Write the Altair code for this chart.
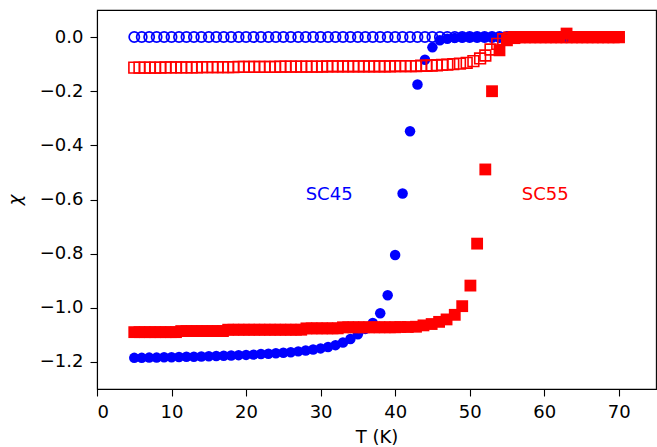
import altair as alt
import pandas as pd

# SC45 (blue): field-cooled (open circles) and zero-field-cooled (filled circles)
t_sc45 = [5, 6, 7, 8, 9, 10, 11, 12, 13, 14, 15, 16, 17, 18, 19, 20, 21, 22, 23, 24,
          25, 26, 27, 28, 29, 30, 31, 32, 33, 34, 35, 36, 37, 38, 39, 40, 41, 42, 43, 44,
          45, 46, 47, 48, 49, 50, 51, 52, 53, 54, 55, 56, 57, 58, 59, 60, 61, 62, 63, 64,
          65, 66, 67, 68, 69, 70]
chi_sc45_fc = [0.0, 0.0, 0.0, 0.0, 0.0, 0.0, 0.0, 0.0, 0.0, 0.0, 0.0, 0.0, 0.0, 0.0, 0.0, 0.0,
               0.0, 0.0, 0.0, 0.0, 0.0, 0.0, 0.0, 0.0, 0.0, 0.0, 0.0, 0.0, 0.0, 0.0, 0.0, 0.0,
               0.0, 0.0, 0.0, 0.0, 0.0, 0.0, 0.0, 0.0, 0.0, 0.0, 0.0, 0.0, 0.0, 0.0, 0.0, 0.0,
               0.0, 0.0, 0.0, 0.0, 0.0, 0.0, 0.0, 0.0, 0.0, 0.0, 0.0, 0.0, 0.0, 0.0, 0.0, 0.0,
               0.0, 0.0]
chi_sc45_zfc = [-1.185, -1.185, -1.184, -1.184, -1.183, -1.183, -1.182, -1.181, -1.181, -1.180,
                -1.179, -1.178, -1.177, -1.176, -1.175, -1.174, -1.173, -1.171, -1.170, -1.168,
                -1.166, -1.164, -1.161, -1.158, -1.154, -1.150, -1.145, -1.138, -1.128, -1.115,
                -1.098, -1.078, -1.056, -1.020, -0.954, -0.805, -0.578, -0.348, -0.175, -0.084,
                -0.038, -0.012, -0.006, -0.003, -0.001, 0.0, 0.0, 0.0, 0.0, 0.0,
                0.0, 0.0, 0.0, 0.0, 0.0, 0.0, 0.0, 0.0, 0.0, 0.0,
                0.0, 0.0, 0.0, 0.0, 0.0, 0.0]

# SC55 (red): field-cooled (open squares)
t_sc55_fc = [5.0, 5.7, 6.4, 7.1, 7.8, 8.5, 9.2, 9.9, 10.6, 11.3, 12.0, 12.7, 13.4, 14.1, 14.8,
             15.5, 16.2, 16.9, 17.6, 18.3, 19.0, 19.7, 20.4, 21.1, 21.8, 22.5, 23.2, 23.9, 24.6,
             25.3, 26.0, 26.7, 27.4, 28.1, 28.8, 29.5, 30.2, 30.9, 31.6, 32.3, 33.0, 33.7, 34.4,
             35.1, 35.8, 36.5, 37.2, 37.9, 38.6, 39.3, 40.0, 40.7, 41.4, 42.1, 42.8, 43.5, 44.2,
             44.9, 45.6, 46.3, 47.0, 47.8, 48.7, 49.6, 50.5, 51.4, 52.1, 52.8, 53.7, 54.5, 55.3,
             56.0, 56.7, 57.4, 58.1, 58.8, 59.5, 60.2, 60.9, 61.6, 62.3, 63.0, 63.7, 64.4, 65.1,
             65.8, 66.5, 67.2, 67.9, 68.6, 69.3, 70.0]
chi_sc55_fc = [-0.113, -0.113, -0.113, -0.113, -0.113, -0.113, -0.112, -0.112, -0.112, -0.112,
               -0.112, -0.112, -0.112, -0.111, -0.111, -0.111, -0.111, -0.111, -0.111, -0.111,
               -0.110, -0.110, -0.110, -0.110, -0.110, -0.110, -0.110, -0.110, -0.109, -0.109,
               -0.109, -0.109, -0.109, -0.109, -0.109, -0.109, -0.109, -0.108, -0.108, -0.108,
               -0.108, -0.108, -0.108, -0.108, -0.108, -0.108, -0.108, -0.108, -0.108, -0.108,
               -0.107, -0.107, -0.107, -0.107, -0.107, -0.106, -0.106, -0.105, -0.104, -0.103,
               -0.102, -0.100, -0.098, -0.095, -0.089, -0.079, -0.068, -0.046, -0.025, -0.008,
               -0.002, 0.0, 0.0, 0.0, 0.0, 0.0, 0.0, 0.0, 0.0, 0.0, 0.0, 0.0, 0.0, 0.0, 0.0,
               0.0, 0.0, 0.0, 0.0, 0.0, 0.0, 0.0]

# SC55 (red): zero-field-cooled (filled squares)
t_sc55_zfc = [5.0, 5.7, 6.4, 7.1, 7.8, 8.5, 9.2, 9.9, 10.6, 11.3, 12.0, 12.7, 13.4, 14.1, 14.8,
              15.5, 16.2, 16.9, 17.6, 18.3, 19.0, 19.7, 20.4, 21.1, 21.8, 22.5, 23.2, 23.9, 24.6,
              25.3, 26.0, 26.7, 27.4, 28.1, 28.8, 29.5, 30.2, 30.9, 31.6, 32.3, 33.0, 33.7, 34.4,
              35.1, 35.8, 36.5, 37.2, 37.9, 38.6, 39.3, 40.0, 40.7, 41.7, 42.8, 43.8, 44.9, 45.9,
              46.9, 48.0, 49.0, 50.1, 51.0, 52.1, 53.0, 54.0, 55.0, 56.0, 57.0, 58.0, 59.0, 60.0,
              61.0, 62.0, 63.0, 64.0, 65.0, 66.0, 67.0, 68.0, 69.0, 70.0]
chi_sc55_zfc = [-1.090, -1.090, -1.090, -1.090, -1.090, -1.090, -1.090, -1.090, -1.090, -1.086,
                -1.086, -1.086, -1.086, -1.086, -1.086, -1.086, -1.086, -1.086, -1.081, -1.081,
                -1.081, -1.081, -1.081, -1.081, -1.081, -1.081, -1.081, -1.081, -1.081, -1.081,
                -1.081, -1.081, -1.081, -1.076, -1.076, -1.076, -1.076, -1.076, -1.076, -1.076,
                -1.072, -1.072, -1.072, -1.072, -1.072, -1.072, -1.072, -1.072, -1.072, -1.072,
                -1.072, -1.071, -1.071, -1.070, -1.065, -1.060, -1.052, -1.043, -1.026, -0.994,
                -0.918, -0.763, -0.489, -0.200, -0.049, -0.012, -0.004, 0.0, 0.0, 0.0,
                0.0, 0.0, 0.0, 0.013, 0.0, 0.0, 0.0, 0.0, 0.0, 0.0, 0.0]

label_text = ["SC45", "SC55"]
label_t = [28.0, 57.0]
label_chi = [-0.6, -0.6]
label_color = ["#0000ff", "#ff0000"]

df45fc = pd.DataFrame({"T": t_sc45, "chi": chi_sc45_fc})
df45zfc = pd.DataFrame({"T": t_sc45, "chi": chi_sc45_zfc})
df55fc = pd.DataFrame({"T": t_sc55_fc, "chi": chi_sc55_fc})
df55zfc = pd.DataFrame({"T": t_sc55_zfc, "chi": chi_sc55_zfc})
dflab = pd.DataFrame({"text": label_text, "T": label_t, "chi": label_chi, "color": label_color})

FONT = "DejaVu Sans"
FS = 18

xenc = alt.X("T:Q", scale=alt.Scale(domain=[0, 75], nice=False, zero=False),
             axis=alt.Axis(title="T (K)", values=[0, 10, 20, 30, 40, 50, 60, 70], format="d"))
yenc = alt.Y("chi:Q", scale=alt.Scale(domain=[-1.3, 0.1], nice=False, zero=False),
             axis=alt.Axis(title="χ", values=[-1.2, -1.0, -0.8, -0.6, -0.4, -0.2, 0.0],
                           format=".1f", titleFontStyle="italic"))

l1 = alt.Chart(df45fc).mark_point(shape="circle", filled=False, color="#0000ff",
                                  size=105, strokeWidth=1.7, opacity=1).encode(x=xenc, y=yenc)
l2 = alt.Chart(df45zfc).mark_point(shape="circle", filled=True, color="#0000ff",
                                   size=110, opacity=1).encode(x=xenc, y=yenc)
l3 = alt.Chart(df55fc).mark_point(shape="square", filled=False, color="#ff0000",
                                  size=115, strokeWidth=1.6, opacity=1).encode(x=xenc, y=yenc)
l4 = alt.Chart(df55zfc).mark_point(shape="square", filled=True, color="#ff0000",
                                   size=140, opacity=1).encode(x=xenc, y=yenc)
l5 = alt.Chart(dflab).mark_text(align="left", baseline="alphabetic", font=FONT,
                                fontSize=FS).encode(
    x=xenc, y=yenc, text="text:N", color=alt.Color("color:N", scale=None))

chart = alt.layer(l1, l2, l3, l4, l5).properties(
    width=559, height=379,
    autosize=alt.AutoSizeParams(type="none"),
    padding={"left": 97, "top": 10, "right": 1, "bottom": 58},
    background="white",
).configure_view(
    stroke="black", strokeWidth=1.1
).configure_axis(
    grid=False, domainColor="black", domainWidth=1.1, tickColor="black", tickWidth=1.1,
    tickSize=7, labelFont=FONT, labelFontSize=FS, labelColor="black", labelPadding=7,
    titleFont=FONT, titleFontSize=FS, titleFontWeight="normal", titleColor="black",
).configure_axisX(titlePadding=7).configure_axisY(titlePadding=15)

chart.save("out.html", embed_options={"renderer": "svg", "actions": False})
